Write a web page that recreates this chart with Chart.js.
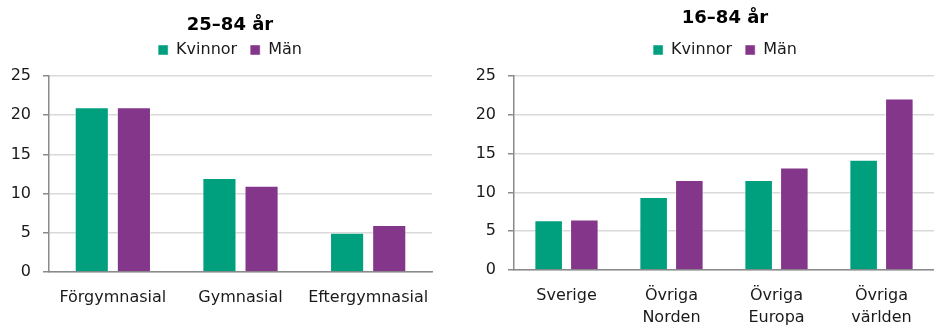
<!DOCTYPE html>
<html>
<head>
<meta charset="utf-8">
<script src="https://cdn.jsdelivr.net/npm/chart.js@4/dist/chart.umd.min.js"></script>
<style>
  html, body { margin: 0; padding: 0; background: #fff; overflow: hidden; width: 934px; height: 327px; }
  #wrapL { position: absolute; left: 0; top: 0; width: 460px; height: 327px; }
  #wrapR { position: absolute; left: 460px; top: 0; width: 530px; height: 327px; }
</style>
</head>
<body>
<div id="wrapL"><canvas id="left"></canvas></div>
<div id="wrapR"><canvas id="right"></canvas></div>
<script>
// ---- Data ----
const seriesNames = ['Kvinnor', 'Män'];
const titleLeft = '25–84 år';
const titleRight = '16–84 år';
const categoriesLeft = ['Förgymnasial', 'Gymnasial', 'Eftergymnasial'];
const kvinnorLeft = [21, 12, 5];
const manLeft = [21, 11, 6];
const categoriesRight = [['Sverige'], ['Övriga', 'Norden'], ['Övriga', 'Europa'], ['Övriga', 'världen']];
const kvinnorRight = [6.4, 9.4, 11.6, 14.2];
const manRight = [6.5, 11.6, 13.2, 22.1];
const yTicks = [0, 5, 10, 15, 20, 25];

// ---- Styles ----
const GREEN = '#00a07f';
const PURPLE = '#84378a';
const TEXT = '#1a1a1a';
const FONT = 'DejaVu Sans, Verdana, sans-serif';

const legendSpacer = {
  id: 'legendSpacer',
  beforeLayout(chart) {
    const lg = chart.legend;
    if (lg && !lg._wrapped) {
      const orig = lg.fit.bind(lg);
      lg.fit = function () { orig(); this.height += 8; };
      lg._wrapped = true;
    }
  }
};

function makeChart(id, cfg) {
  const datasets = [
    { label: seriesNames[0], data: cfg.k, backgroundColor: GREEN,
      borderColor: 'rgba(255,255,255,0.45)', borderWidth: 1, borderSkipped: 'bottom',
      categoryPercentage: cfg.cat, barPercentage: cfg.bar },
    { label: seriesNames[1], data: cfg.m, backgroundColor: PURPLE,
      borderColor: 'rgba(255,255,255,0.45)', borderWidth: 1, borderSkipped: 'bottom',
      categoryPercentage: cfg.cat, barPercentage: cfg.bar }
  ];
  return new Chart(document.getElementById(id), {
    type: 'bar',
    data: { labels: cfg.labels, datasets },
    plugins: [legendSpacer],
    options: {
      responsive: true,
      maintainAspectRatio: false,
      animation: false,
      layout: { padding: 0 },
      plugins: {
        title: {
          display: true, text: cfg.title, color: '#000',
          font: { family: FONT, size: 18, weight: 'bold', lineHeight: 1 },
          padding: { top: cfg.tTop, bottom: cfg.tBottom }
        },
        legend: {
          display: true,
          labels: {
            color: TEXT, boxWidth: 10, boxHeight: 10, padding: 13,
            font: { family: FONT, size: 16 }
          }
        },
        tooltip: { enabled: false }
      },
      scales: {
        x: {
          grid: { display: false, drawTicks: false },
          border: { display: true, color: '#8a8a8a', width: 1.5 },
          ticks: {
            color: TEXT, maxRotation: 0, autoSkip: false, padding: cfg.xPad,
            font: { family: FONT, size: 16, lineHeight: cfg.xLH }
          },
          afterFit(scale) { scale.height = cfg.xH; }
        },
        y: {
          min: 0, max: 25,
          afterBuildTicks(scale) { scale.ticks = yTicks.map(v => ({ value: v })); },
          grid: { color: '#d9d9d9', lineWidth: 1.5, tickColor: '#8a8a8a', tickLength: 6, drawTicks: true },
          border: { display: true, color: '#8a8a8a', width: 1.5 },
          ticks: {
            color: TEXT, padding: 12,
            font: { family: FONT, size: 16 }
          },
          afterFit(scale) { scale.width = cfg.yW; }
        },
        spacer: {
          type: 'linear', axis: 'y', position: 'right', display: true,
          grid: { display: false, drawTicks: false },
          border: { display: false },
          ticks: { display: false },
          afterFit(scale) { scale.width = cfg.rW; }
        }
      }
    }
  });
}

makeChart('left', {
  labels: categoriesLeft, k: kvinnorLeft, m: manLeft, title: titleLeft,
  yW: 49, rW: 28, xH: 55, xPad: 16, xLH: 1.2,
  tTop: 16, tBottom: -5, cat: 0.66, bar: 0.81
});
makeChart('right', {
  labels: categoriesRight, k: kvinnorRight, m: manRight, title: titleRight,
  yW: 54, rW: 56, xH: 57, xPad: 15, xLH: 1.375,
  tTop: 9, tBottom: 2, cat: 0.68, bar: 0.80
});
</script>
</body>
</html>
